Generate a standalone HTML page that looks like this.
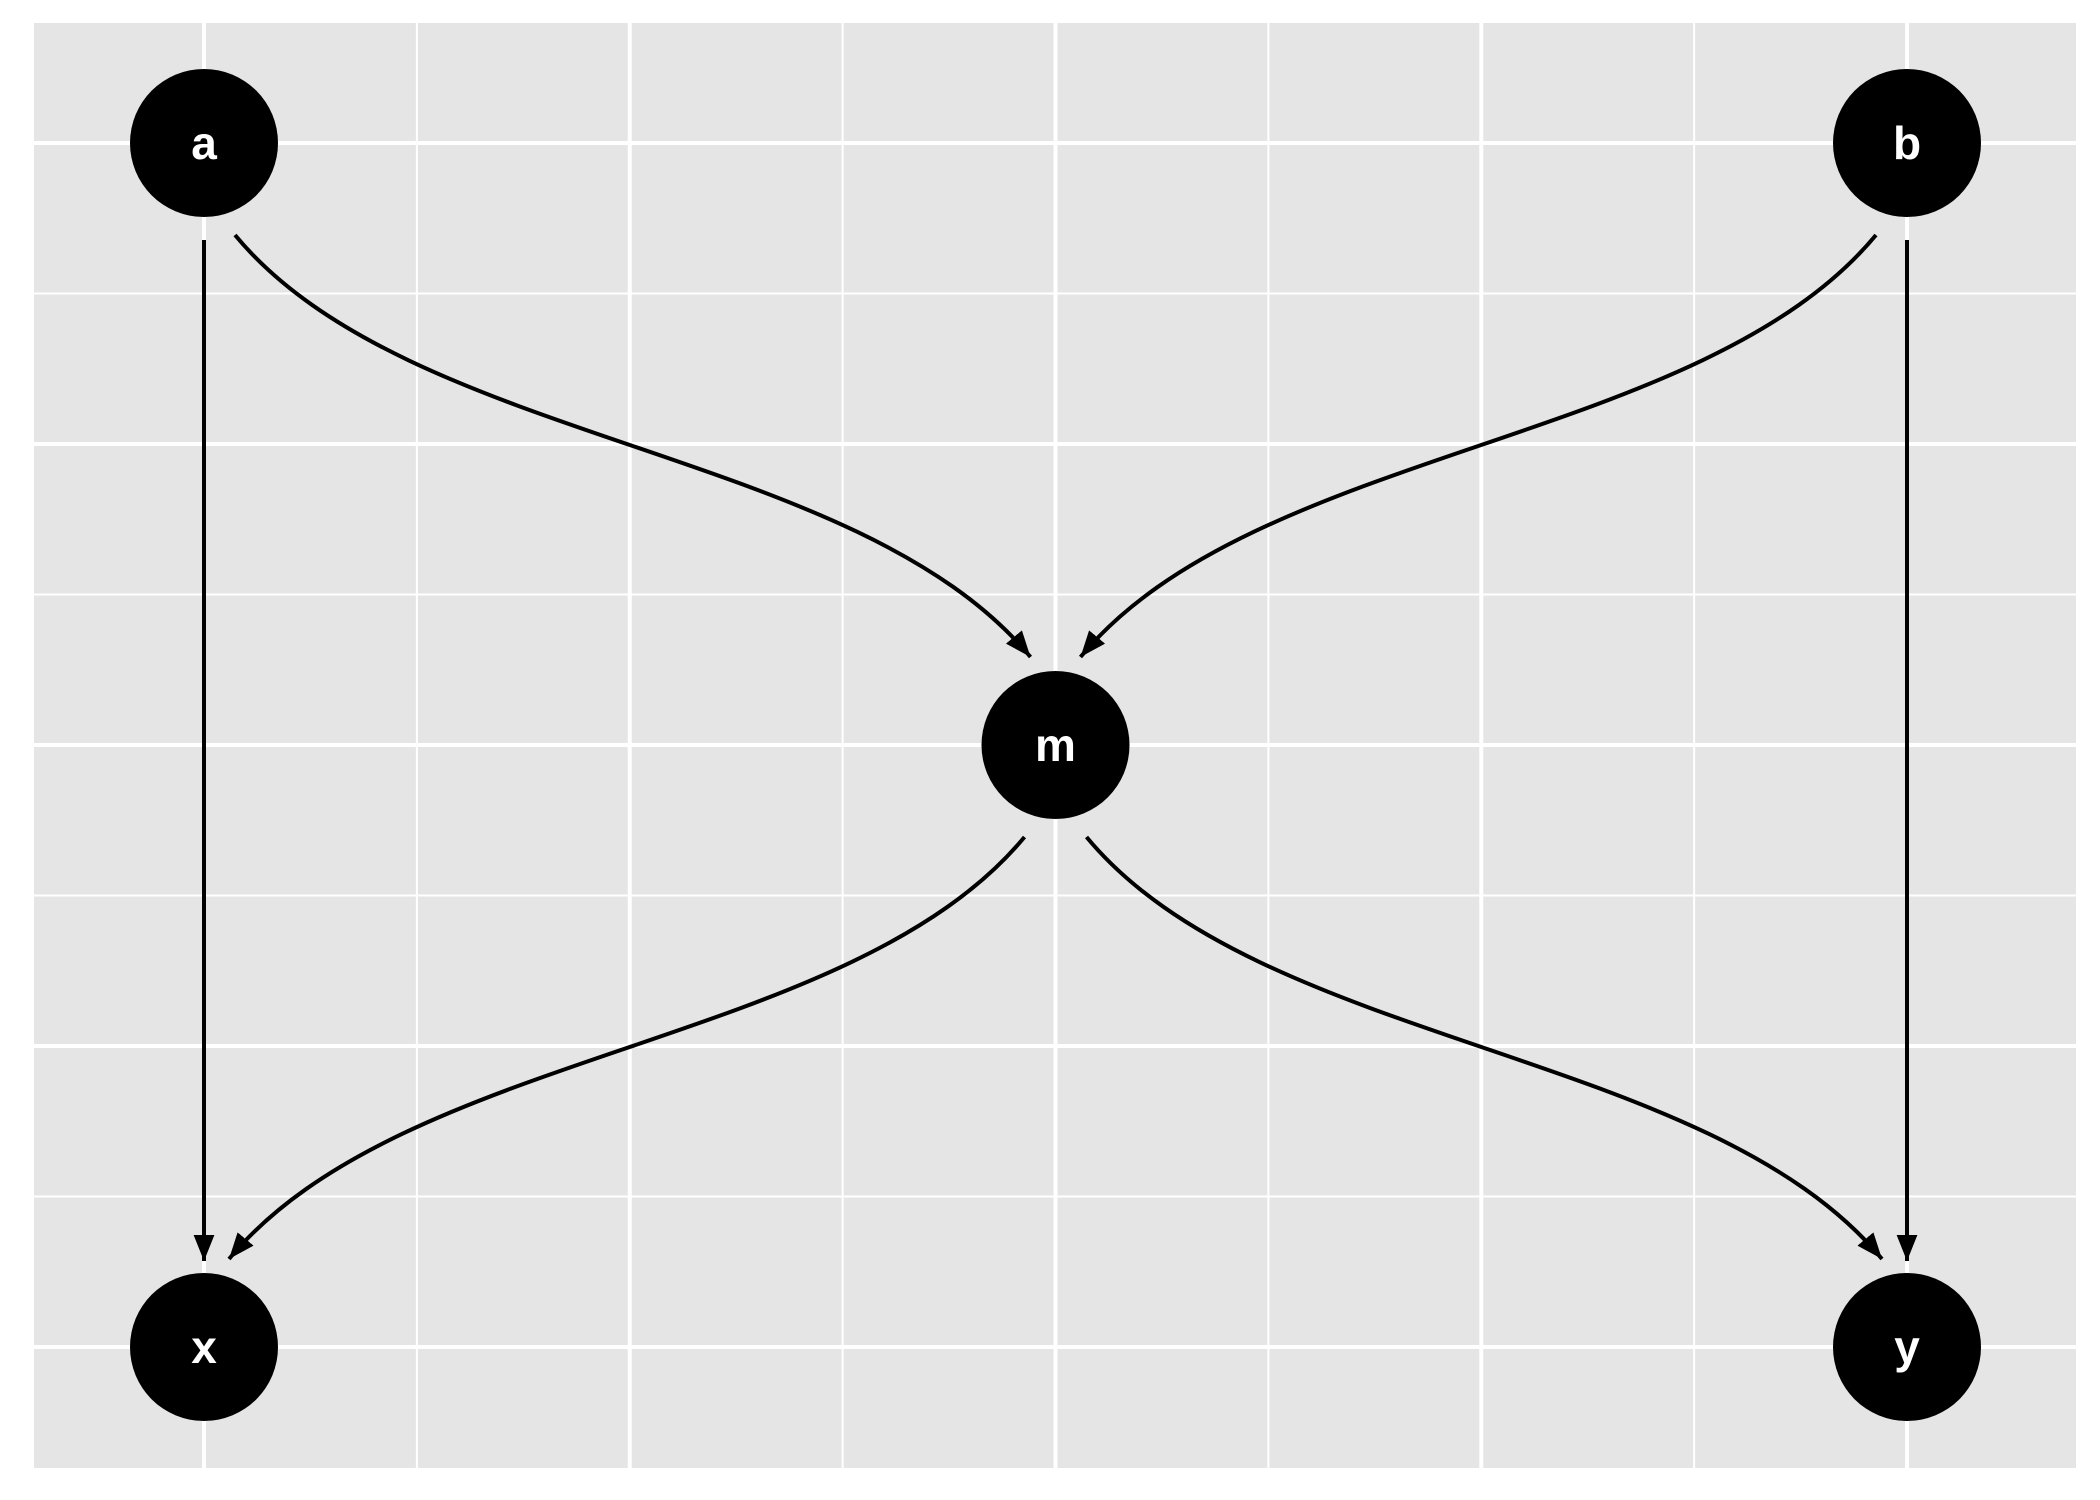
<!DOCTYPE html>
<html><head><meta charset="utf-8"><style>
html,body{margin:0;padding:0;background:#fff;}
svg{display:block;font-family:"Liberation Sans",sans-serif;}
</style></head><body>
<svg id="chart" width="2100" height="1500" viewBox="0 0 2100 1500" xmlns="http://www.w3.org/2000/svg">
<defs>
<marker id="arrow" viewBox="0 0 10 10" refX="10" refY="5" markerWidth="26" markerHeight="26" markerUnits="userSpaceOnUse" orient="auto">
<path d="M0,1 L10,5 L0,9 z" fill="#000"/>
</marker>
</defs>
<rect x="34" y="23" width="2042" height="1445" fill="#e5e5e5"/>
<g id="grid"></g>
<g id="edges"></g>
<g id="nodes"></g>
</svg>
<script>
const nodeNames = ['a','b','m','x','y'];
const nodeX = [0, 2, 1, 0, 2];
const nodeY = [2, 2, 1, 0, 0];
const edgeFrom = ['a','a','b','b','m','m'];
const edgeTo = ['x','m','m','y','x','y'];
const majorTicks = [0, 0.5, 1, 1.5, 2];
const minorTicks = [0.25, 0.75, 1.25, 1.75];

const X0=34, X1=2076, Y0=23, Y1=1468;
function sx(v){ return 204 + v*851.5; }
function sy(v){ return 1347 - v*602; }
const NS='http://www.w3.org/2000/svg';
function mk(tag, attrs, parent){ const e=document.createElementNS(NS,tag); for(const k in attrs) e.setAttribute(k, attrs[k]); parent.appendChild(e); return e; }

const grid=document.getElementById('grid');
minorTicks.forEach(t=>{
  let l=mk('line',{x1:sx(t),x2:sx(t),y1:Y0,y2:Y1,stroke:'#fff','stroke-width':2},grid);
  
  
  let h=mk('line',{x1:X0,x2:X1,y1:sy(t),y2:sy(t),stroke:'#fff','stroke-width':2},grid);
  
  
});
majorTicks.forEach(t=>{
  let l=mk('line',{x1:sx(t),x2:sx(t),y1:Y0,y2:Y1,stroke:'#fff','stroke-width':4},grid);
  
  
  let h=mk('line',{x1:X0,x2:X1,y1:sy(t),y2:sy(t),stroke:'#fff','stroke-width':4},grid);
  
  
});

const edges=document.getElementById('edges');
edgeFrom.forEach((f,i)=>{
  const a=nodeNames.indexOf(f), b=nodeNames.indexOf(edgeTo[i]);
  const x0=sx(nodeX[a]), y0=sy(nodeY[a]), x1=sx(nodeX[b]), y1=sy(nodeY[b]);
  let d;
  if(Math.abs(x1-x0)<1){
    const s=Math.sign(y1-y0);
    d=`M${x0},${y0+97*s} L${x1},${y1-86*s}`;
  } else {
    const sxn=Math.sign(x1-x0), syn=Math.sign(y1-y0);
    const px=x0+31*sxn, py=y0+92*syn, qx=x1-25*sxn, qy=y1-88*syn;
    const dx=qx-px, dy=qy-py;
    d=`M${px},${py} C${px+0.22*dx},${py+0.5*dy} ${qx-0.22*dx},${qy-0.5*dy} ${qx},${qy}`;
  }
  const p=mk('path',{d:d,fill:'none',stroke:'#000','stroke-width':4,'marker-end':'url(#arrow)'},edges);
  
  
});

const nodes=document.getElementById('nodes');
nodeNames.forEach((n,i)=>{
  const c=mk('circle',{cx:sx(nodeX[i]),cy:sy(nodeY[i]),r:74,fill:'#000'},nodes);
  
  
  const t=mk('text',{x:sx(nodeX[i]),y:sy(nodeY[i])+16,'text-anchor':'middle',fill:'#fff','font-size':46,'font-weight':'bold'},nodes);
  t.textContent=n;
  
  
});
</script>
</body></html>
